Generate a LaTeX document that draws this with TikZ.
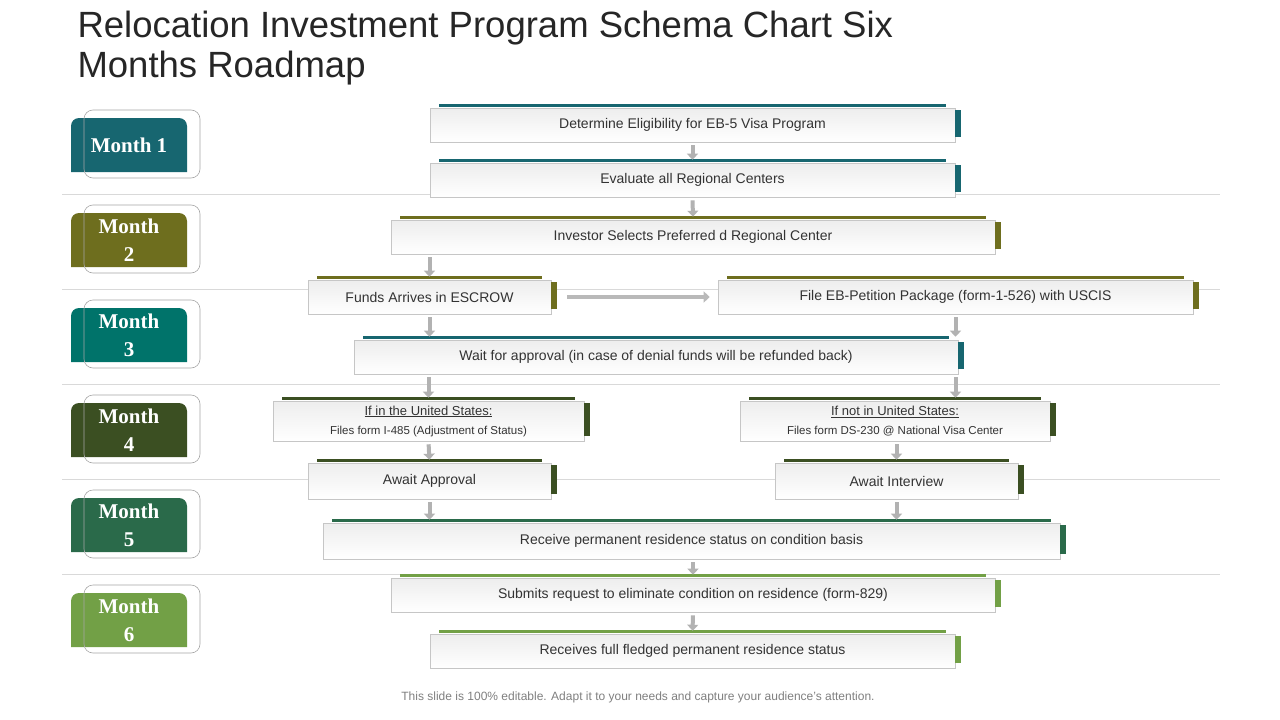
\documentclass[tikz,border=0pt]{standalone}
\usepackage{fontspec}
\setmainfont{Liberation Sans}
\newfontfamily\monthfont{Liberation Serif}
\usetikzlibrary{calc,arrows.meta}
\definecolor{cTeal}{HTML}{176670}
\definecolor{cOlive}{HTML}{6E6E1E}
\definecolor{cSea}{HTML}{00736A}
\definecolor{cDark}{HTML}{3B4F22}
\definecolor{cForest}{HTML}{2A6A4A}
\definecolor{cLeaf}{HTML}{72A046}
\tikzset{
  stepbox/.style={draw=gray!45, line width=0.6pt, top color=gray!14, bottom color=white,
    font=\fontsize{14}{16}\selectfont, text=black!80, align=center, inner sep=0pt},
  flowarrow/.style={draw=gray!60, line width=4pt, -{Triangle[width=11pt,length=6pt]},
    shorten <=3pt, shorten >=3pt},
  sepline/.style={draw=gray!30, line width=0.7pt},
}
% step box with coloured bar on top and tab on the right
\newcommand\stepnode[7]{%
  \node[stepbox, minimum width=#4, minimum height=#5] (#1) at (#2,#3) {#7};
  \fill[#6] ($(#1.north west)+(9,-4)$) rectangle ($(#1.north east)+(-9,-1)$);
  \fill[#6] ($(#1.north east)+(0,2)$) rectangle ($(#1.south east)+(6,-5)$);
}
\newcommand\monthtab[4]{%
  \fill[#3] (71,#2+27) [rounded corners=8] -- (71,#2-27) -- (187,#2-27) [sharp corners] -- (187,#2+27) -- cycle;
  \draw[gray!70, line width=0.6pt, rounded corners=9] (84,#2+33) rectangle (200,#2-35);
  \node[font=\monthfont\bfseries\fontsize{21}{28}\selectfont, text=white, align=center] (#1) at (129,#2) {#4};
}
\begin{document}
\begin{tikzpicture}[x=1pt,y=-1pt]
\useasboundingbox[fill=white] (0,0) rectangle (1280,720);
\node[anchor=north west, align=left, font=\fontsize{36.5}{40}\selectfont, text=black!85] (title) at (74,8)
  {Relocation Investment Program Schema Chart Six\\Months Roadmap};
\foreach \y in {194,289,384,479,574}
  \draw[sepline] (62,\y) -- (1220,\y);
\monthtab{m1}{145}{cTeal}{Month 1}
\monthtab{m2}{240}{cOlive}{Month\\2}
\monthtab{m3}{335}{cSea}{Month\\3}
\monthtab{m4}{430}{cDark}{Month\\4}
\monthtab{m5}{525}{cForest}{Month\\5}
\monthtab{m6}{620}{cLeaf}{Month\\6}

\stepnode{determine}{692.5}{125}{525}{34}{cTeal}{Determine Eligibility for EB-5 Visa Program}
\stepnode{evaluate}{692.5}{180}{525}{34}{cTeal}{Evaluate all Regional Centers}
\stepnode{selects}{693}{237}{604}{34}{cOlive}{Investor Selects Preferred d Regional Center}
\stepnode{funds}{429.5}{297}{243}{34}{cOlive}{Funds Arrives in ESCROW}
\stepnode{petition}{955.5}{297}{475}{34}{cOlive}{File EB-Petition Package (form-1-526) with USCIS}
\stepnode{wait}{656}{357}{604}{34}{cTeal}{Wait for approval (in case of denial funds will be refunded back)}
\stepnode{inus}{428.5}{421}{311}{40}{cDark}{\fontsize{13}{15}\selectfont\underline{If in the United States:}\\[3pt]\fontsize{11.5}{13}\selectfont Files form I-485 (Adjustment of Status)}
\stepnode{notus}{895}{421}{310}{40}{cDark}{\fontsize{13}{15}\selectfont\underline{If not in United States:}\\[3pt]\fontsize{11.5}{13}\selectfont Files form DS-230 @ National Visa Center}
\stepnode{approval}{429.5}{481}{243}{36}{cDark}{Await Approval}
\stepnode{interview}{896.5}{481}{243}{36}{cDark}{Await Interview}
\stepnode{receive}{691.5}{541}{737}{36}{cForest}{Receive permanent residence status on condition basis}
\stepnode{submits}{693}{595}{604}{34}{cLeaf}{Submits request to eliminate condition on residence (form-829)}
\stepnode{full}{692.5}{651}{525}{34}{cLeaf}{Receives full fledged permanent residence status}

\draw[flowarrow] (determine.south) -- (evaluate.north);
\draw[flowarrow] (evaluate.south) -- (selects.north);
\draw[flowarrow] (selects.south -| funds.north) -- (funds.north);
\draw[flowarrow] (funds.south) -- (wait.north -| funds.south);
\draw[flowarrow] (petition.south) -- (wait.north -| petition.south);
\draw[flowarrow] (wait.south -| inus.north) -- (inus.north);
\draw[flowarrow] (wait.south -| petition.south) -- (notus.north -| petition.south);
\draw[flowarrow] (inus.south) -- (approval.north);
\draw[flowarrow] (notus.south -| interview.north) -- (interview.north);
\draw[flowarrow] (approval.south) -- (receive.north -| approval.south);
\draw[flowarrow] (interview.south) -- (receive.north -| interview.south);
\draw[flowarrow] (receive.south -| submits.north) -- (submits.north);
\draw[flowarrow] (submits.south) -- (full.north);
\draw[flowarrow, draw=gray!55, shorten <=16pt, shorten >=8pt] (funds.east) -- (petition.west);

\node[font=\fontsize{12}{14}\selectfont, text=gray] (footer) at (638,697)
  {This slide is 100\% editable. Adapt it to your needs and capture your audience's attention.};
\end{tikzpicture}
\end{document}
